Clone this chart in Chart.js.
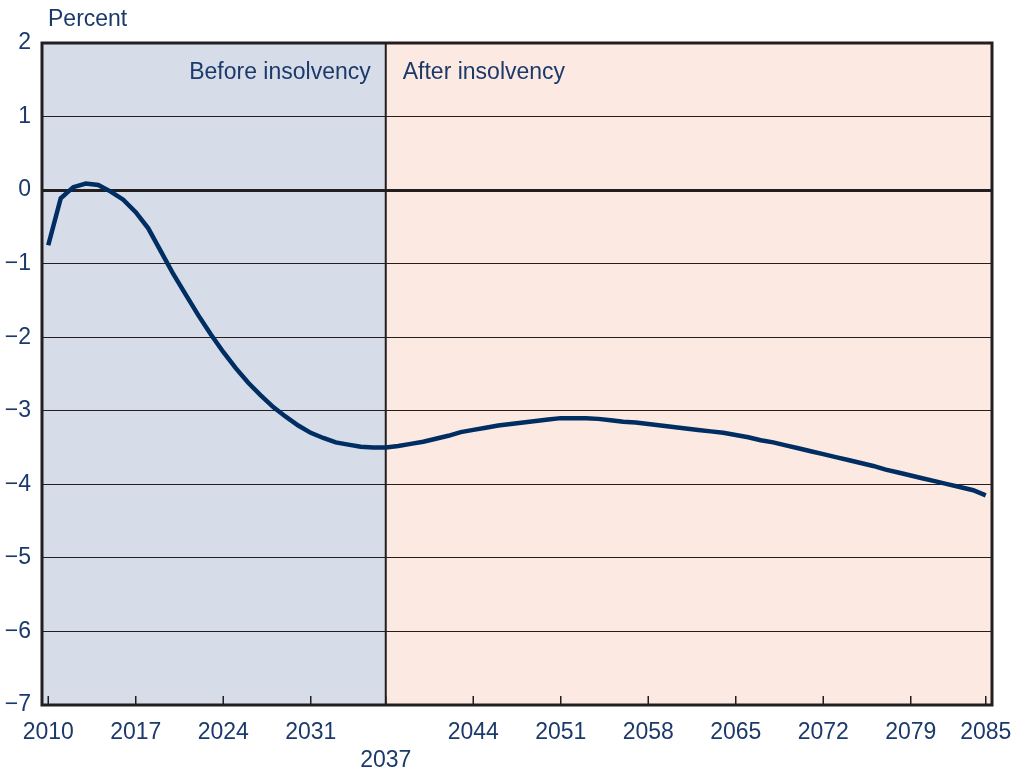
<!DOCTYPE html>
<html>
<head>
<meta charset="utf-8">
<script src="https://cdn.jsdelivr.net/npm/chart.js@4/dist/chart.umd.min.js"></script>
<style>
  html, body { margin: 0; padding: 0; background: #fff; }
  #wrap { width: 1013px; height: 768px; position: relative; }
</style>
</head>
<body>
<div id="wrap"><canvas id="grafico"></canvas></div>
<script>
const anos = [];
for (let a = 2010; a <= 2085; a++) anos.push(a);

const valores = [
  -0.75, -0.11, 0.04, 0.09, 0.07, -0.02, -0.13, -0.30, -0.52, -0.83,
  -1.14, -1.42, -1.70, -1.96, -2.20, -2.42, -2.62, -2.79, -2.95, -3.08,
  -3.20, -3.30, -3.37, -3.43, -3.46, -3.49, -3.50, -3.50,
  -3.48, -3.45, -3.42, -3.38, -3.34, -3.29, -3.26, -3.23, -3.20, -3.18,
  -3.16, -3.14, -3.12, -3.10, -3.10, -3.10, -3.11, -3.13, -3.15, -3.16,
  -3.18, -3.20, -3.22, -3.24, -3.26, -3.28, -3.30, -3.33, -3.36, -3.40,
  -3.43, -3.47, -3.51, -3.55, -3.59, -3.63, -3.67, -3.71, -3.75, -3.80,
  -3.84, -3.88, -3.92, -3.96, -4.00, -4.04, -4.08, -4.15
];

const anosRotulo = [2010, 2017, 2024, 2031, 2037, 2044, 2051, 2058, 2065, 2072, 2079, 2085];
const anoInsolvencia = 2037;

const corTexto = "#1b3a6b";
const corLinha = "#002d62";
const fonte = "'Liberation Sans', Arial, Helvetica, sans-serif";

const fundoPlugin = {
  id: "fundo",
  beforeDraw(chart) {
    const { ctx, chartArea: a, scales } = chart;
    const xi = scales.x.getPixelForValue(anoInsolvencia);
    ctx.save();
    ctx.fillStyle = "#d6dce8";
    ctx.fillRect(a.left, a.top, xi - a.left, a.bottom - a.top);
    ctx.fillStyle = "#fce9e2";
    ctx.fillRect(xi, a.top, a.right - xi, a.bottom - a.top);
    ctx.restore();
  },
  beforeDatasetsDraw(chart) {
    const { ctx, chartArea: a, scales } = chart;
    const xi = scales.x.getPixelForValue(anoInsolvencia);
    ctx.save();
    ctx.strokeStyle = "#231f20";
    ctx.lineWidth = 2;
    ctx.beginPath();
    ctx.moveTo(xi, a.top);
    ctx.lineTo(xi, a.bottom);
    ctx.stroke();

    // marcas do eixo x, para dentro
    ctx.lineWidth = 1.5;
    anosRotulo.forEach(v => {
      const x = scales.x.getPixelForValue(v);
      ctx.beginPath();
      ctx.moveTo(x, a.bottom);
      ctx.lineTo(x, a.bottom - 9);
      ctx.stroke();
    });

    ctx.fillStyle = corTexto;
    ctx.font = "23px " + fonte;
    ctx.textBaseline = "middle";
    ctx.textAlign = "right";
    ctx.fillText("Before insolvency", xi - 15, 73);
    ctx.textAlign = "left";
    ctx.fillText("After insolvency", xi + 17, 73);
    ctx.fillText("Percent", 48, 20);
    ctx.restore();
  },
  afterDraw(chart) {
    const { ctx, chartArea: a } = chart;
    ctx.save();
    ctx.strokeStyle = "#231f20";
    ctx.lineWidth = 3;
    ctx.strokeRect(a.left, a.top, a.right - a.left, a.bottom - a.top);
    ctx.restore();
  }
};

const ctx = document.getElementById("grafico").getContext("2d");
new Chart(ctx, {
  type: "line",
  data: {
    labels: anos,
    datasets: [{
      data: anos.map((a, i) => ({ x: a, y: valores[i] })),
      borderColor: corLinha,
      borderWidth: 4.5,
      pointRadius: 0,
      tension: 0,
      fill: false
    }]
  },
  options: {
    responsive: true,
    maintainAspectRatio: false,
    animation: false,
    layout: { padding: { left: 0, right: 21, top: 43, bottom: 0 } },
    plugins: {
      legend: { display: false },
      tooltip: { enabled: false }
    },
    scales: {
      x: {
        type: "linear",
        min: 2009.5,
        max: 2085.5,
        afterBuildTicks: axis => {
          axis.ticks = anosRotulo.map(v => ({ value: v }));
        },
        afterFit: axis => {
          axis.height = 63;
          axis.paddingLeft = 0;
          axis.paddingRight = 0;
        },
        grid: { display: false, drawTicks: false },
        border: { display: false },
        ticks: {
          autoSkip: false,
          maxRotation: 0,
          padding: 14,
          color: corTexto,
          font: { size: 23, family: fonte },
          callback: v => v === anoInsolvencia ? ["", String(v)] : String(v)
        }
      },
      y: {
        min: -7,
        max: 2,
        afterFit: axis => {
          axis.width = 42;
          axis.paddingTop = 0;
          axis.paddingBottom = 0;
        },
        grid: {
          color: "#231f20",
          lineWidth: c => c.tick && c.tick.value === 0 ? 3 : 1,
          drawTicks: false
        },
        border: { display: false },
        ticks: {
          stepSize: 1,
          padding: 11,
          color: corTexto,
          font: { size: 23, family: fonte },
          callback: v => v < 0 ? "\u2212" + Math.abs(v) : String(v)
        }
      }
    }
  },
  plugins: [fundoPlugin]
});
</script>
</body>
</html>
